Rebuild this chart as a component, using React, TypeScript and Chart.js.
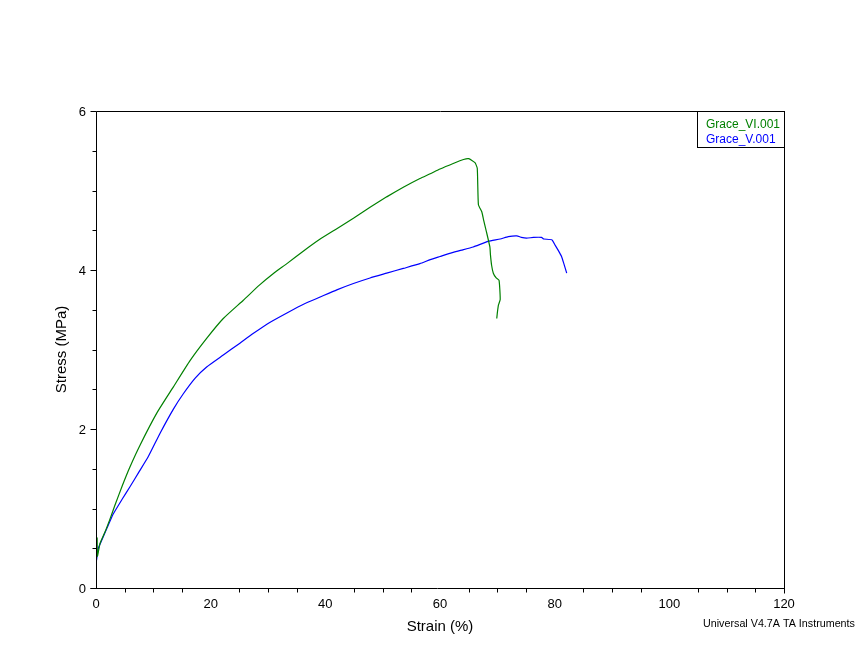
import { useEffect, useRef } from "react";
import { Chart, registerables } from "chart.js";

Chart.register(...registerables);

const seriesNames = ["Grace_VI.001", "Grace_V.001"];
const seriesColors = ["#008000", "#0000ff"];

const graceVIStrain = [0.1, 0.2, 0.25, 0.7, 1.6, 2.4, 3.3, 4.6, 5.9, 7.7, 10.6, 13.5, 16.4, 19.3, 22.2, 25.7, 28.5, 31.0, 33.3, 36.2, 39.1, 42.0, 44.9, 47.8, 50.7, 53.6, 56.5, 58.3, 60.0, 62.3, 64.1, 65.0, 66.1, 66.5, 66.7, 67.3, 67.6, 68.1, 68.7, 68.8, 69.0, 69.3, 69.8, 70.3, 70.5, 70.2, 70.0, 69.9];
const graceVIStress = [0.45, 0.63, 0.4, 0.56, 0.71, 0.86, 1.04, 1.29, 1.52, 1.8, 2.2, 2.53, 2.86, 3.14, 3.39, 3.62, 3.81, 3.96, 4.08, 4.24, 4.39, 4.52, 4.65, 4.79, 4.92, 5.04, 5.15, 5.21, 5.27, 5.34, 5.39, 5.4, 5.35, 5.28, 4.82, 4.73, 4.63, 4.48, 4.29, 4.19, 4.06, 3.96, 3.9, 3.87, 3.63, 3.56, 3.46, 3.39];

const graceVStrain = [0.1, 0.4, 1.0, 1.9, 3.0, 4.5, 5.9, 7.5, 9.1, 11.2, 13.5, 15.2, 17.3, 19.3, 22.2, 25.1, 27.4, 30.3, 33.3, 36.2, 39.1, 42.0, 44.9, 47.8, 50.7, 53.6, 56.5, 58.3, 60.0, 61.7, 63.8, 65.8, 68.4, 70.5, 71.9, 73.4, 74.2, 75.1, 76.3, 77.7, 78.1, 79.5, 80.1, 80.6, 81.2, 81.6, 82.1];
const graceVStress = [0.35, 0.5, 0.6, 0.75, 0.93, 1.11, 1.27, 1.46, 1.65, 1.95, 2.25, 2.44, 2.64, 2.78, 2.93, 3.08, 3.2, 3.34, 3.46, 3.57, 3.66, 3.75, 3.83, 3.9, 3.96, 4.02, 4.08, 4.13, 4.17, 4.21, 4.25, 4.29, 4.36, 4.39, 4.42, 4.43, 4.41, 4.4, 4.41, 4.41, 4.39, 4.38, 4.31, 4.25, 4.17, 4.08, 3.96];

const xTickValues = [0, 20, 40, 60, 80, 100, 120];
const yTickValues = [0, 2, 4, 6];
const xMinorStep = 5;
const yMinorStep = 0.5;
const xAxisTitle = "Strain (%)";
const yAxisTitle = "Stress (MPa)";
const footerText = "Universal V4.7A TA Instruments";

const FONT = '"Liberation Sans", Arial, sans-serif';

const decorPlugin = {
  id: "decor",
  afterDraw(chart: any) {
    const ctx = chart.ctx as CanvasRenderingContext2D;
    const { left, top, right, bottom } = chart.chartArea;
    const xs = chart.scales.x;
    const ys = chart.scales.y;
    const L = Math.round(left) + 0.5;
    const R = Math.round(right) + 0.5;
    const T = Math.round(top) + 0.5;
    const B = Math.round(bottom) + 0.5;
    ctx.save();
    ctx.strokeStyle = "#000";
    ctx.lineWidth = 1;
    ctx.beginPath();
    ctx.moveTo(L, T);
    ctx.lineTo(R, T);
    ctx.moveTo(R, T);
    ctx.lineTo(R, B + 5);
    ctx.moveTo(L, T);
    ctx.lineTo(L, B);
    ctx.moveTo(L - 6, B);
    ctx.lineTo(R, B);
    const yMin = yTickValues[0];
    const yMax = yTickValues[yTickValues.length - 1];
    for (let v = yMin; v <= yMax + 1e-9; v += yMinorStep) {
      const isMajor = yTickValues.some((t) => Math.abs(t - v) < 1e-6);
      const py = Math.round(ys.getPixelForValue(v)) + 0.5;
      ctx.moveTo(L - (isMajor ? 6 : 4), py);
      ctx.lineTo(L, py);
    }
    const xMin = xTickValues[0];
    const xMax = xTickValues[xTickValues.length - 1];
    for (let v = xMin + xMinorStep; v < xMax - 1e-9; v += xMinorStep) {
      const isMajor = xTickValues.some((t) => Math.abs(t - v) < 1e-6);
      if (isMajor) continue;
      const px = Math.round(xs.getPixelForValue(v)) + 0.5;
      ctx.moveTo(px, B);
      ctx.lineTo(px, B + 4);
    }
    ctx.stroke();

    ctx.fillStyle = "#000";
    ctx.font = `13px ${FONT}`;
    ctx.textBaseline = "alphabetic";
    ctx.textAlign = "center";
    for (const v of xTickValues) {
      ctx.fillText(String(v), xs.getPixelForValue(v), bottom + 20);
    }
    ctx.textAlign = "right";
    for (const v of yTickValues) {
      ctx.fillText(String(v), left - 10, ys.getPixelForValue(v) + 5);
    }

    ctx.font = `15px ${FONT}`;
    ctx.textAlign = "center";
    ctx.fillText(xAxisTitle, (left + right) / 2, 631);
    ctx.save();
    ctx.translate(66, (top + bottom) / 2);
    ctx.rotate(-Math.PI / 2);
    ctx.fillText(yAxisTitle, 0, 0);
    ctx.restore();

    ctx.font = `11px ${FONT}`;
    ctx.textAlign = "left";
    const w = ctx.measureText(footerText).width;
    const fs = 11 * (152 / w);
    ctx.font = `${fs.toFixed(2)}px ${FONT}`;
    ctx.fillText(footerText, 703, 627);

    const boxL = 697.5;
    ctx.strokeStyle = "#000";
    ctx.strokeRect(boxL, T, R - boxL, 36);
    ctx.font = `12px ${FONT}`;
    ctx.textAlign = "left";
    chart.data.datasets.forEach((ds: any, i: number) => {
      ctx.fillStyle = ds.borderColor;
      ctx.fillText(ds.label, 706, 127.5 + i * 15);
    });
    ctx.restore();
  },
};

export default function App() {
  const ref = useRef<HTMLCanvasElement | null>(null);
  useEffect(() => {
    if (!ref.current) return;
    const mk = (xsArr: number[], ysArr: number[]) => xsArr.map((x, i) => ({ x, y: ysArr[i] }));
    const chart = new Chart(ref.current, {
      type: "scatter",
      data: {
        datasets: [
          {
            label: seriesNames[0],
            data: mk(graceVIStrain, graceVIStress),
            borderColor: seriesColors[0],
            backgroundColor: seriesColors[0],
            showLine: true,
            borderWidth: 1.2,
            pointRadius: 0,
            tension: 0.15,
          },
          {
            label: seriesNames[1],
            data: mk(graceVStrain, graceVStress),
            borderColor: seriesColors[1],
            backgroundColor: seriesColors[1],
            showLine: true,
            borderWidth: 1.2,
            pointRadius: 0,
            tension: 0.15,
          },
        ],
      },
      options: {
        responsive: false,
        animation: false,
        devicePixelRatio: 1,
        layout: { padding: { left: 96, top: 111, right: 80, bottom: 60 } },
        plugins: { legend: { display: false }, tooltip: { enabled: false }, title: { display: false } },
        scales: {
          x: { type: "linear", min: xTickValues[0], max: xTickValues[xTickValues.length - 1], display: false },
          y: { type: "linear", min: yTickValues[0], max: yTickValues[yTickValues.length - 1], display: false },
        },
      },
      plugins: [decorPlugin],
    });
    return () => chart.destroy();
  }, []);
  return (
    <div style={{ position: "absolute", left: 0, top: 0, width: 864, height: 648, background: "#fff" }}>
      <canvas ref={ref} width={864} height={648} />
    </div>
  );
}
